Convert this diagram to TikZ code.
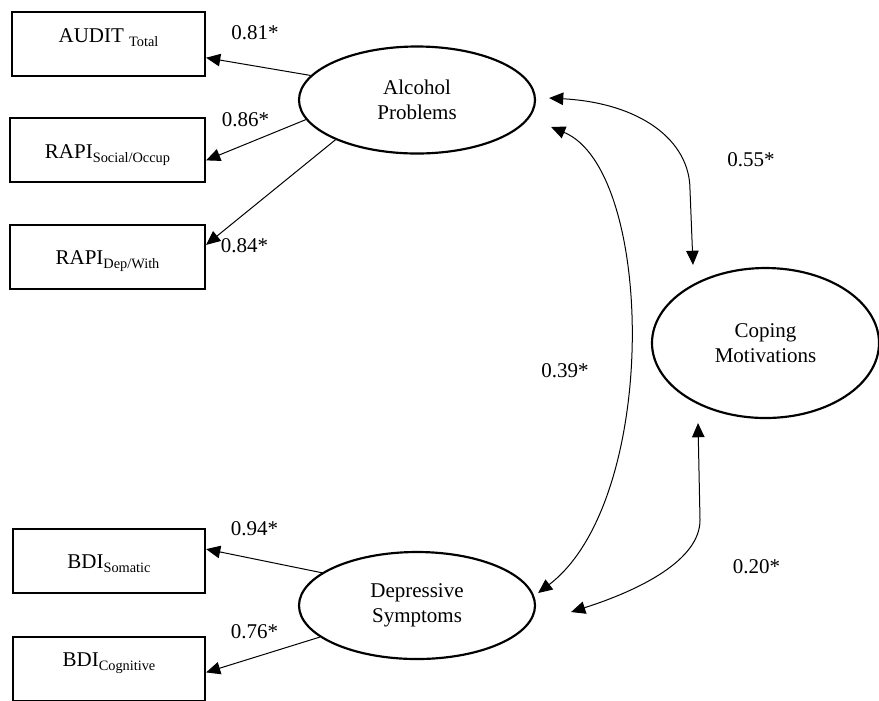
\documentclass[tikz,border=0pt]{standalone}
\usepackage{fontspec}
\setmainfont{Liberation Serif}
\usetikzlibrary{positioning, shapes.geometric, arrows.meta, calc}
\newcommand{\idx}[1]{\raisebox{-2.4pt}{\fontsize{8.6}{9}\selectfont #1}}

\begin{document}
\begin{tikzpicture}[x=0.6pt, y=-0.6pt, font=\fontsize{12.6}{15}\selectfont,
    obs/.style={draw, line width=1.3pt, minimum width=115.8pt, minimum height=38.4pt, inner sep=0pt},
    lat/.style={draw, ellipse, line width=1.3pt, align=center, inner sep=0pt},
    load/.style={-{Triangle[length=8.5pt, width=7.5pt]}, line width=0.6pt},
    cov/.style={{Triangle[length=8.5pt, width=7.5pt]}-{Triangle[length=8.5pt, width=7.5pt]}, line width=0.6pt},
    coef/.style={inner sep=0pt}]
    \useasboundingbox (0,0) rectangle (879,700);
    % indicateurs
    \node[obs] (audit) at (108.5,44) {};
    \node[obs, minimum width=117pt] (social) at (107.5,150) {};
    \node[obs, minimum width=117pt] (depwith) at (107.5,257) {};
    \node[obs, minimum width=115.2pt] (somatic) at (109,561) {};
    \node[obs, minimum width=115.2pt] (cognitive) at (109,669) {};
    \node[anchor=base] (audittxt) at ($(audit.center)+(0,-2)$) {AUDIT \idx{Total}};
    \node[anchor=base] (socialtxt) at ($(social.center)+(0,8)$) {RAPI\idx{Social/Occup}};
    \node[anchor=base] (depwithtxt) at ($(depwith.center)+(0,7)$) {RAPI\idx{Dep/With}};
    \node[anchor=base] (somatictxt) at ($(somatic.center)+(0,7)$) {BDI\idx{Somatic}};
    \node[anchor=base] (cognitivetxt) at ($(cognitive.center)+(0,-3)$) {BDI\idx{Cognitive}};
    % facteurs latents
    \node[lat, minimum width=141.6pt, minimum height=64.2pt] (alc) at (417,100) {Alcohol\\Problems};
    \node[lat, minimum width=136.2pt, minimum height=90pt] (cop) at (765.5,343) {Coping\\Motivations};
    \node[lat, minimum width=141.6pt, minimum height=64.2pt] (dep) at (417,605.5) {Depressive\\Symptoms};
    % saturations
    \draw[load] (alc.167) -- (audit.-8);
    \draw[load] (alc.190) -- (social.-6);
    \draw[load] (alc.206) -- (depwith.7);
    \draw[load] (dep.161) -- (somatic.7);
    \draw[load] (dep.198) -- (cognitive.-2);
    \node[coef] (l1) at (255,33) {0.81*};
    \node[coef] (l2) at (245.5,120) {0.86*};
    \node[coef] (l3) at (244.5,245.5) {0.84*};
    \node[coef] (l4) at (254.5,528.5) {0.94*};
    \node[coef] (l5) at (254.5,631.5) {0.76*};
    % covariances
    \draw[cov] ($(alc.east)+(13,-2)$) .. controls (640,103) and (690,140) .. (690,190) -- ($(cop.north)+(-72.5,-2)$);
    \draw[cov] ($(alc.east)+(15,27)$) .. controls (655,170) and (660,500) .. ($(dep.east)+(2,-12.5)$);
    \draw[cov] ($(dep.east)+(35,6.5)$) .. controls (640,590) and (700,560) .. (700,520) -- ($(cop.south)+(-67.5,4)$);
    \node[coef] (c1) at (751,160) {0.55*};
    \node[coef] (c2) at (565,370.5) {0.39*};
    \node[coef] (c3) at (756.5,567) {0.20*};
\end{tikzpicture}
\end{document}
